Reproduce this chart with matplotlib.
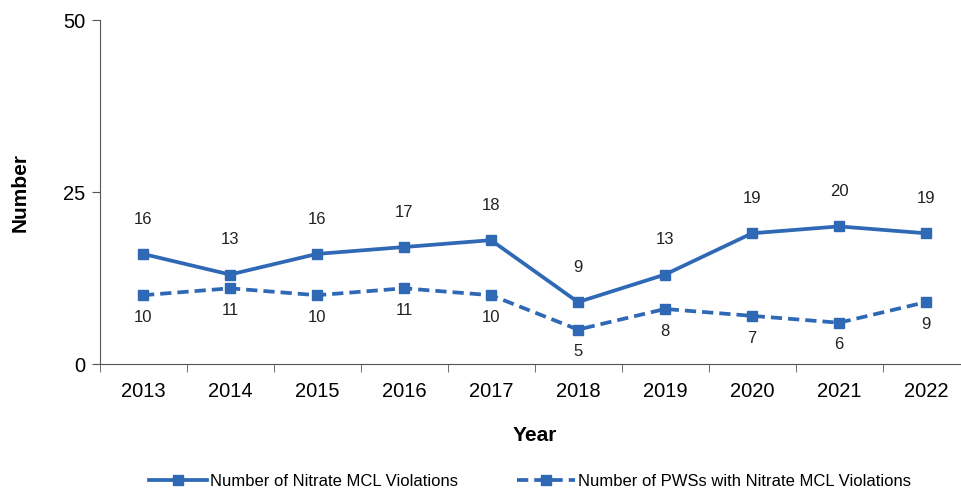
import matplotlib.pyplot as plt
import numpy as np

years = ["2013", "2014", "2015", "2016", "2017", "2018", "2019", "2020", "2021", "2022"]
violations = [16, 13, 16, 17, 18, 9, 13, 19, 20, 19]
pws_violations = [10, 11, 10, 11, 10, 5, 8, 7, 6, 9]

blue = "#2F69B5"
plt.rcParams["font.family"] = ["Liberation Sans", "DejaVu Sans"]

fig = plt.figure(figsize=(9.61, 4.94), dpi=100)
ax = fig.add_axes([99.5 / 961, 1 - 364 / 494, 870 / 961, 344 / 494])

x = np.arange(len(years))
ax.plot(x, violations, color=blue, lw=2.7, marker="s", ms=7.5, label="Number of Nitrate MCL Violations")
ax.plot(x, pws_violations, color=blue, lw=2.7, ls=(0, (3, 1.6)), marker="s", ms=7.5,
        label="Number of PWSs with Nitrate MCL Violations")

for xi, v in zip(x, violations):
    ax.annotate(str(v), (xi, v), xytext=(0, 25), textcoords="offset points",
                ha="center", va="center", fontsize=12, color="#222222")
for xi, v in zip(x, pws_violations):
    ax.annotate(str(v), (xi, v), xytext=(0, -16), textcoords="offset points",
                ha="center", va="center", fontsize=12, color="#222222")

ax.set_xlim(-0.5, 9.5)
ax.set_ylim(0, 50)
ax.set_yticks([0, 25, 50])
ax.set_xticks(x)
ax.set_xticklabels(years)
ax.set_xticks(np.arange(-0.5, 10, 1), minor=True)
ax.tick_params(axis="x", which="major", length=0, labelsize=14.5, pad=13)
ax.tick_params(axis="x", which="minor", length=6, direction="out", color="#555555")
ax.tick_params(axis="y", length=6, labelsize=14.5, color="#555555", pad=4)
for s in ["top", "right"]:
    ax.spines[s].set_visible(False)
for s in ["left", "bottom"]:
    ax.spines[s].set_color("#555555")

ax.set_xlabel("Year", fontsize=15, fontweight="bold", labelpad=18)
ax.set_ylabel("Number", fontsize=15, fontweight="bold", labelpad=24)

fig.legend(loc="center", bbox_to_anchor=(530 / 961, 1 - 481 / 494), ncol=2, frameon=False,
           handlelength=3.5, columnspacing=3.5, handletextpad=0.2,
           prop={"family": ["Liberation Sans Narrow", "Liberation Sans"], "size": 12})

fig.savefig("out.png", dpi=100)
